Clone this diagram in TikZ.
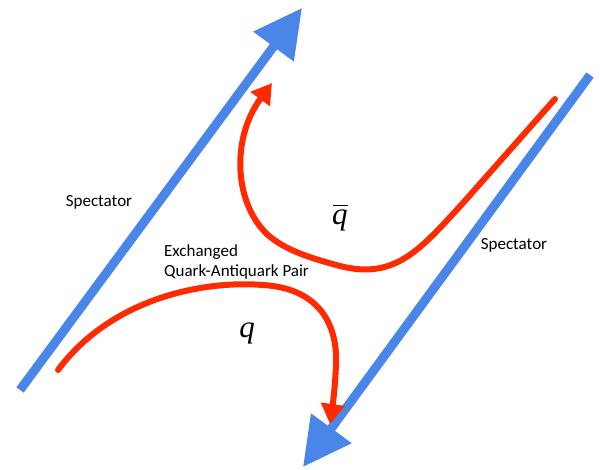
\documentclass[tikz,border=0pt]{standalone}
\usepackage{fontspec}
\setmainfont{Carlito}
\newfontfamily\qfont{Liberation Serif}
\usetikzlibrary{arrows.meta}
\definecolor{specblue}{RGB}{74,134,232}
\definecolor{quarkred}{RGB}{255,42,0}
\tikzset{
  spectator/.style={draw=specblue, line width=9pt, -{Triangle[length=48pt,width=48pt]}},
  quark/.style={draw=quarkred, line width=6pt, line cap=round, -{Triangle[length=20pt,width=23pt]}},
  lbl/.style={font=\fontsize{17}{20}\selectfont, inner sep=0pt, align=left},
  qlbl/.style={font=\qfont\itshape\fontsize{31}{31}\selectfont, inner sep=0pt}
}
\begin{document}
\begin{tikzpicture}[x=1pt,y=-1pt]
\useasboundingbox (0,0) rectangle (600,469);
% spectator lines
\coordinate (s1a) at (20,390);
\coordinate (s1b) at (302,8);
\coordinate (s2a) at (590,75);
\coordinate (s2b) at (303,467);
\draw[spectator] (s1a) -- (s1b);
\draw[spectator] (s2a) -- (s2b);
% antiquark
\coordinate (qa) at (555,99);
\coordinate (qb) at (463,203);
\coordinate (qc) at (340,266);
\coordinate (qd) at (268,235);
\coordinate (qe) at (272,83);
\draw[quark] (qa) -- (qb) .. controls (420,250) and (395,280) .. (qc)
  .. controls (310,258) and (285,250) .. (qd)
  .. controls (235,205) and (230,140) .. (qe);
% quark
\coordinate (pa) at (58,370);
\coordinate (pb) at (263,285);
\coordinate (pc) at (336,365);
\coordinate (pd) at (330,424);
\draw[quark] (pa) .. controls (110,300) and (200,280) .. (pb)
  .. controls (315,288) and (338,320) .. (pc)
  .. controls (335,390) and (332,410) .. (pd);
% labels
\node[lbl] (spec1) at (99,202) {Spectator};
\node[lbl] (spec2) at (514,245) {Spectator};
\node[lbl, anchor=west] (exch) at (164,262) {Exchanged\\Quark-Antiquark Pair};
\node[qlbl] (qbar) at (340,218) {\vbox{\offinterlineskip\moveright1pt\vbox{\hrule height 1.6pt width 15pt}\kern4pt\hbox{q}}};
\node[qlbl] (q) at (247,333) {q};
\end{tikzpicture}
\end{document}
